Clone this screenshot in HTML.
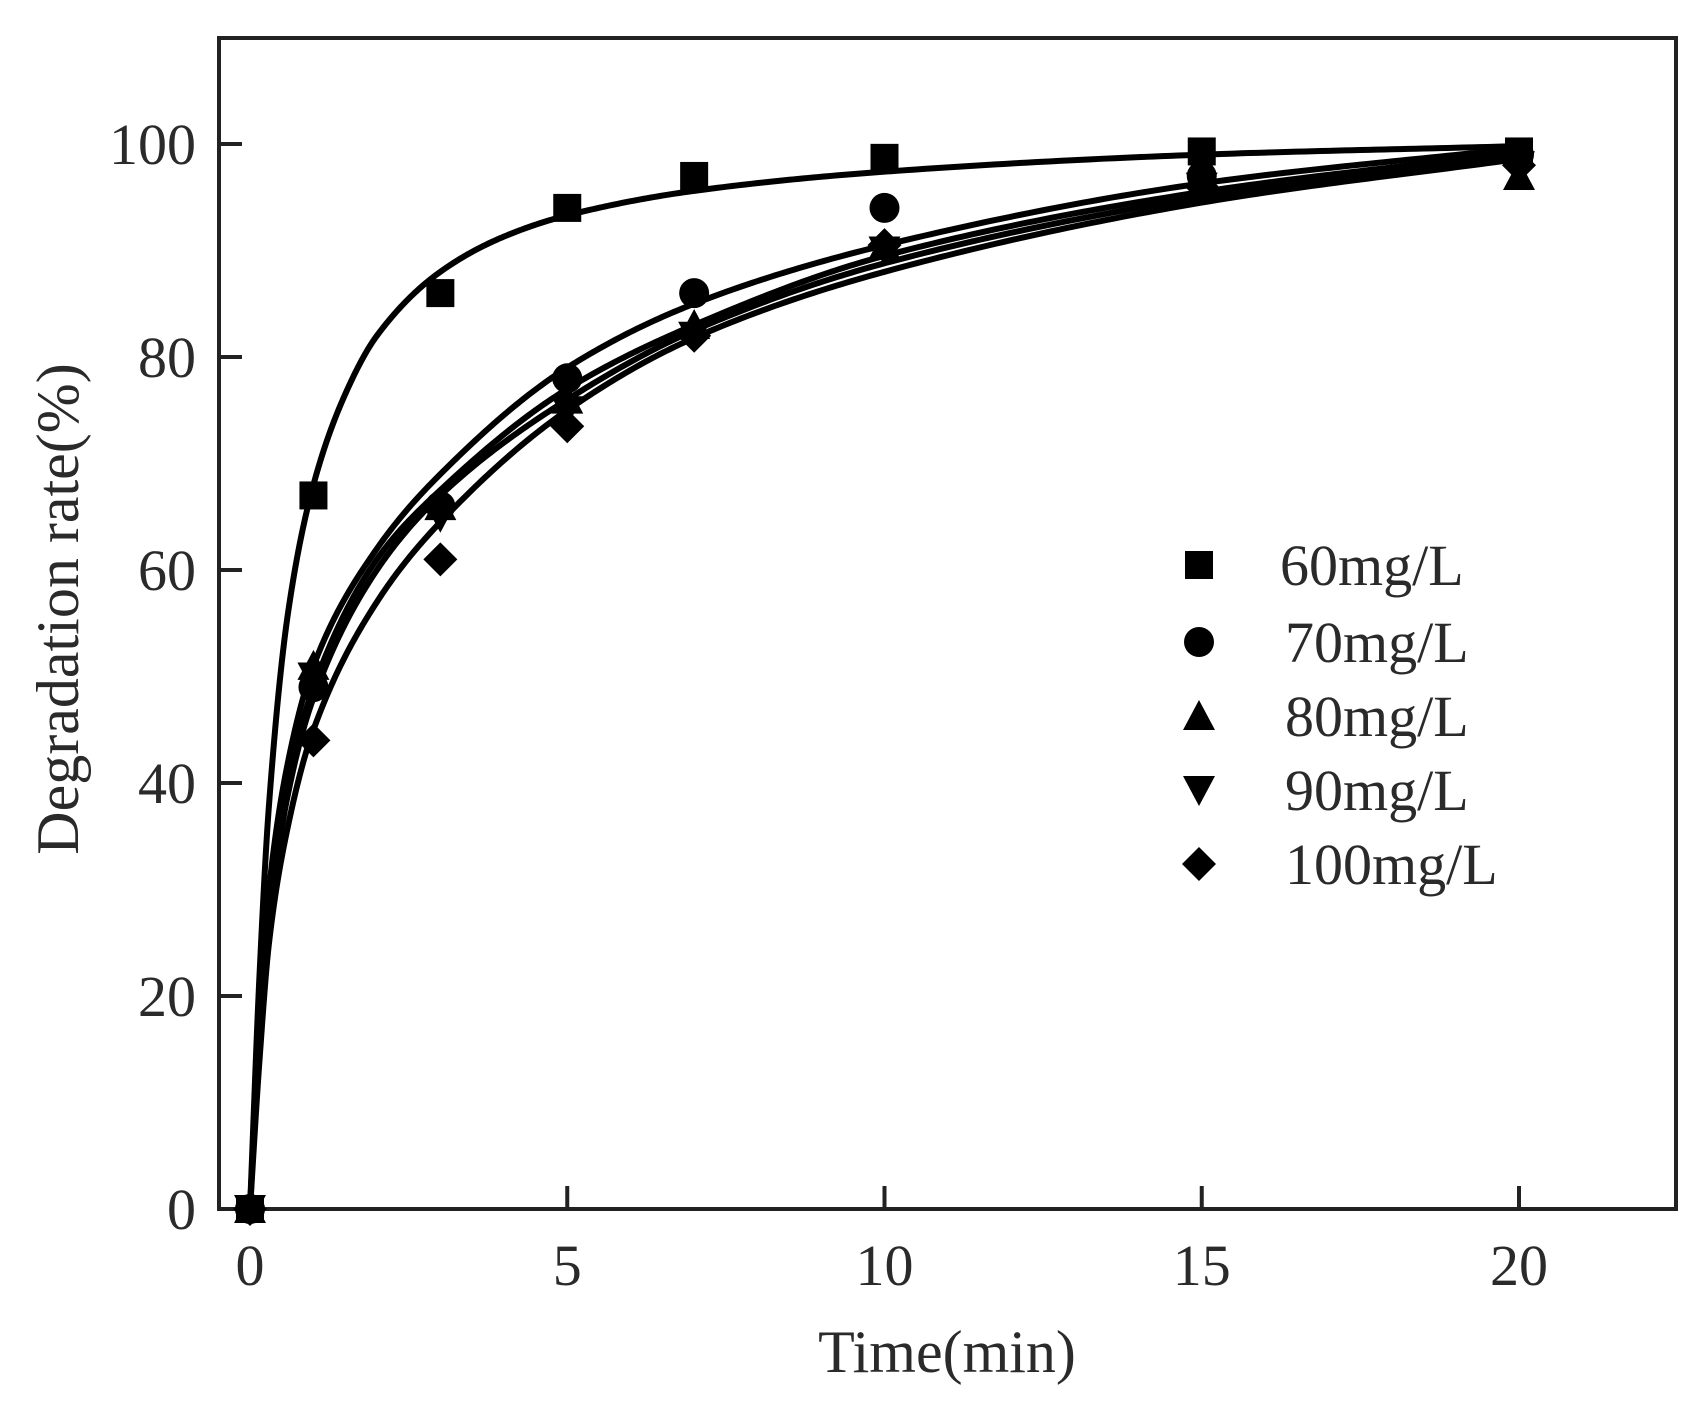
<!DOCTYPE html>
<html><head><meta charset="utf-8"><style>
html,body{margin:0;padding:0;background:#fff;}
svg text{font-family:"Liberation Serif",serif;fill:#2a2a2a;}
</style></head><body>
<svg id="s" width="1706" height="1404" viewBox="0 0 1706 1404" xmlns="http://www.w3.org/2000/svg">
<rect x="219" y="38" width="1457" height="1171" fill="none" stroke="#222" stroke-width="4"/>
<g id="ticks" stroke="#222" stroke-width="4"></g>
<g id="labels" font-size="58"></g>
<text x="947" y="1372" font-size="60" text-anchor="middle">Time(min)</text>
<text transform="translate(78,609) rotate(-90)" font-size="60" text-anchor="middle">Degradation rate(%)</text>
<g id="curves" fill="none" stroke="#000" stroke-width="6" stroke-linecap="round" stroke-linejoin="round"></g>
<g id="marks" fill="#000"></g>
<g id="legend" fill="#000"></g>
</svg>
<script>
const NS="http://www.w3.org/2000/svg";
const X=t=>250+t*63.45, Y=v=>1209-v*10.65;
function el(p,tag,a,txt){const e=document.createElementNS(NS,tag);for(const k in a)e.setAttribute(k,a[k]);if(txt!=null)e.textContent=txt;document.getElementById(p).appendChild(e);return e;}
for(let t=0;t<=20;t+=5){el('ticks','line',{x1:X(t),x2:X(t),y1:1209,y2:1186});el('labels','text',{x:X(t),y:1285,'text-anchor':'middle'},t);}
for(let v=0;v<=100;v+=20){el('ticks','line',{x1:219,x2:242,y1:Y(v),y2:Y(v)});el('labels','text',{x:196,y:Y(v)+20,'text-anchor':'end'},v);}
const curves=[
[[0,0],[0.15,22],[0.3,38],[0.6,56],[1,68],[1.5,76.5],[2,82],[3,88],[4,91.3],[5,93.3],[7,95.6],[10,97.4],[15,99],[20,99.8]],
[[0,0],[0.15,18],[0.3,30],[0.6,42],[1,51],[2,62],[3,69],[5,79],[7,85],[10,90.5],[15,96.3],[20,99.6]],
[[0,0],[0.15,17],[0.3,28],[0.6,40],[1,49],[2,61],[3,67.5],[5,77],[7,83],[10,89.5],[15,95.5],[20,99.2]],
[[0,0],[0.15,16],[0.3,27],[0.6,39],[1,48],[2,60],[3,67],[5,76],[7,82.5],[10,88.8],[15,95],[20,98.9]],
[[0,0],[0.15,14],[0.3,25],[0.6,36],[1,45],[2,57],[3,64.5],[5,75],[7,81.8],[10,88],[15,94.5],[20,98.6]]];
function mono(pts){const n=pts.length,xs=pts.map(p=>p[0]),ys=pts.map(p=>p[1]);const d=[],m=[];
for(let i=0;i<n-1;i++)d.push((ys[i+1]-ys[i])/(xs[i+1]-xs[i]));
m[0]=d[0];m[n-1]=d[n-2];
for(let i=1;i<n-1;i++){if(d[i-1]*d[i]<=0)m[i]=0;else{const w1=2*(xs[i+1]-xs[i])+(xs[i]-xs[i-1]),w2=(xs[i+1]-xs[i])+2*(xs[i]-xs[i-1]);m[i]=(w1+w2)/(w1/d[i-1]+w2/d[i]);}}
let s='';
for(let i=0;i<n-1;i++){const h=xs[i+1]-xs[i];const N=40;for(let k=(i==0?0:1);k<=N;k++){const t=k/N,t2=t*t,t3=t2*t;
const y=(2*t3-3*t2+1)*ys[i]+(t3-2*t2+t)*h*m[i]+(-2*t3+3*t2)*ys[i+1]+(t3-t2)*h*m[i+1];
s+=(s?' L':'M')+X(xs[i]+t*h).toFixed(2)+','+Y(y).toFixed(2);}}return s;}
curves.forEach(c=>el('curves','path',{d:mono(c)}));
const T=[0,1,3,5,7,10,15,20];
const data=[[0,67,86,94,97,98.7,99.3,99.3],[0,49,66,78,86,94,97,99],[0,51,66,76,83,90.5,96,97],[0,50,65,75,82,90,96,98],[0,44,61,73.5,82,90.5,96,98]];
function marker(g,k,x,y){const s=14;
if(k==0)el(g,'rect',{x:x-s,y:y-s,width:2*s,height:2*s});
else if(k==1)el(g,'circle',{cx:x,cy:y,r:s+1});
else if(k==2)el(g,'polygon',{points:`${x},${y-s-2} ${x+s+2},${y+s} ${x-s-2},${y+s}`});
else if(k==3)el(g,'polygon',{points:`${x},${y+s+2} ${x+s+2},${y-s} ${x-s-2},${y-s}`});
else el(g,'polygon',{points:`${x},${y-s-3} ${x+s+3},${y} ${x},${y+s+3} ${x-s-3},${y}`});}
data.forEach((d,k)=>d.forEach((v,i)=>marker('marks',k,X(T[i]),Y(v))));
const names=['60mg/L','70mg/L','80mg/L','90mg/L','100mg/L'],ly=[565,642,716,790,864];
names.forEach((n,k)=>{marker('legend',k,1199,ly[k]);el('legend','text',{x:k==0?1280:1285,y:ly[k]+20,'font-size':58},n);});
</script>
</body></html>
